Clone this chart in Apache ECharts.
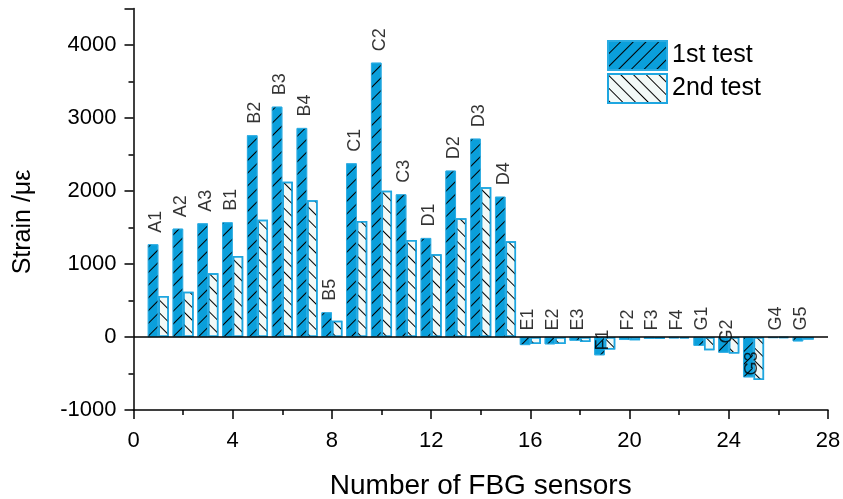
<!DOCTYPE html>
<html>
<head>
<meta charset="utf-8">
<title>FBG strain</title>
<script src="https://cdn.jsdelivr.net/npm/echarts@6/dist/echarts.min.js"></script>
<style>
  html, body { margin: 0; padding: 0; background: #fff; }
  #chart { width: 843px; height: 499px; }
</style>
</head>
<body>
<div id="chart"></div>
<script>
// sensor names and their position on the x axis
var sensors = ['A1','A2','A3','B1','B2','B3','B4','B5','C1','C2','C3','D1','D2','D3','D4',
               'E1','E2','E3','F1','F2','F3','F4','G1','G2','G3','G4','G5'];
var positions = [1,2,3,4,5,6,7,8,9,10,11,12,13,14,15,16,17,18,19,20,21,22,23,24,25,26,27];
// strain (microstrain)
var test1 = [1270,1484,1557,1571,2763,3155,2863,338,2379,3758,1954,1356,2279,2717,1922,
             -110,-100,-50,-250,-40,-25,-20,-120,-215,-552,-15,-60];
var test2 = [562,621,872,1110,1607,2128,1872,224,1589,2005,1329,1132,1626,2050,1311,
             -95,-95,-70,-170,-45,-25,-20,-180,-225,-590,-15,-35];
var xTicks = [0,4,8,12,16,20,24,28];
var yTicks = [-1000,0,1000,2000,3000,4000];

var font = 'Liberation Sans, Arial, sans-serif';
var blue = '#0a9fdb';

// some labels sit lower in the original figure (px)
var labelShift = { F1: 20, G2: 13, G3: 45 };

var d1 = [], d2 = [], labels = [];
for (var i = 0; i < sensors.length; i++) {
	d1.push([positions[i], test1[i]]);
	d2.push([positions[i], test2[i]]);
	var anchorVal = Math.max(test1[i], test2[i], 0);
	labels.push({
		name: sensors[i],
		value: [positions[i], anchorVal],
		label: {
			distance: anchorVal > 0 ? 11 : 6,
			// offset is in the rotated text frame
			offset: [-(labelShift[sensors[i]] || 0), -2]
		}
	});
}

var option = {
	animation: false,
	grid: { left: 133.5, right: 15, top: 8.5, bottom: 89, outerBoundsMode: 'none' },
	legend: {
		orient: 'vertical',
		left: 607, top: 40,
		padding: 0,
		icon: 'rect',
		itemWidth: 59, itemHeight: 29, itemGap: 2,
		textStyle: { fontFamily: font, fontSize: 25, color: '#000' },
		data: ['1st test', '2nd test']
	},
	xAxis: {
		type: 'value',
		min: xTicks[0], max: xTicks[xTicks.length - 1], interval: 4,
		name: 'Number of FBG sensors',
		nameLocation: 'middle', nameGap: 62,
		nameTextStyle: { fontFamily: font, fontSize: 28, color: '#000' },
		axisLine: { onZero: false, lineStyle: { color: '#000', width: 1.5 } },
		axisTick: { length: 9, lineStyle: { color: '#000', width: 1.5 } },
		minorTick: { show: true, splitNumber: 2, length: 5, lineStyle: { color: '#000', width: 1.5 } },
		axisLabel: { margin: 20, fontFamily: font, fontSize: 22, color: '#000' },
		splitLine: { show: false }
	},
	yAxis: {
		type: 'value',
		min: yTicks[0], max: 4500, interval: 1000,
		axisLine: { show: true, lineStyle: { color: '#000', width: 1.5 } },
		axisTick: { show: true, length: 9, lineStyle: { color: '#000', width: 1.5 } },
		minorTick: { show: true, splitNumber: 2, length: 5, lineStyle: { color: '#000', width: 1.5 } },
		axisLabel: {
			margin: 17, fontFamily: font, fontSize: 22, color: '#000',
			formatter: function (v) { return yTicks.indexOf(v) >= 0 ? String(v) : ''; }
		},
		splitLine: { show: false }
	},
	graphic: [{
		type: 'text',
		x: 23, y: 222, rotation: Math.PI / 2,
		style: {
			text: 'Strain /\u03bc\u03b5', fontFamily: font, fontSize: 25, fill: '#000',
			align: 'center', verticalAlign: 'middle'
		}
	}],
	series: [
		{
			name: '1st test',
			type: 'bar',
			barWidth: 10.5,
			barGap: '0%',
			data: d1,
			itemStyle: {
				color: blue, borderColor: '#29abe2', borderWidth: 0.8,
				decal: {
					symbol: 'rect', symbolSize: 1, color: '#000',
					dashArrayX: [1, 0], dashArrayY: [1, 8],
					rotation: -Math.PI / 4
				}
			},
			markLine: {
				silent: true, symbol: 'none',
				label: { show: false },
				lineStyle: { color: '#000', width: 1.5, type: 'solid' },
				data: [{ yAxis: 0 }]
			}
		},
		{
			name: '2nd test',
			type: 'bar',
			barWidth: 10.5,
			data: d2,
			itemStyle: {
				color: '#f2f9f7', borderColor: '#1ea6e0', borderWidth: 1.5,
				decal: {
					symbol: 'rect', symbolSize: 1, color: '#000',
					dashArrayX: [1, 0], dashArrayY: [1, 8],
					rotation: Math.PI / 4
				}
			}
		},
		{
			name: 'labels',
			type: 'scatter',
			symbolSize: 1,
			itemStyle: { color: 'rgba(0,0,0,0)' },
			z: 5,
			data: labels,
			label: {
				show: true, position: 'top', rotate: 90,
				align: 'left', verticalAlign: 'middle',
				fontFamily: font, fontSize: 18, color: '#000',
				formatter: '{b}'
			}
		}
	]
};

var chart = echarts.init(document.getElementById('chart'));
chart.setOption(option);
</script>
</body>
</html>
